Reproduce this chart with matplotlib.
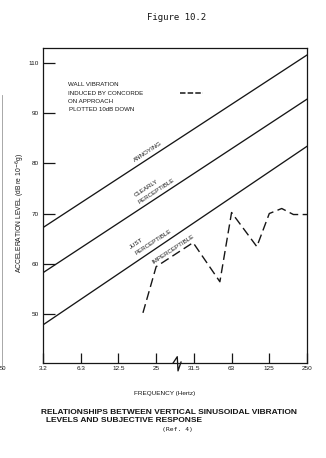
import math
import matplotlib
matplotlib.use("Agg")
import matplotlib.pyplot as plt
from matplotlib.transforms import blended_transform_factory

# Frequency axis: octave positions with a break between 25 and 31.5 Hz
freq_labels = ["3.2", "6.3", "12.5", "25", "31.5", "63", "125", "250"]
freq_pos = list(range(len(freq_labels)))

# Acceleration level axis (the top label reads 110 on the printed scale)
level_ticks = [50, 60, 70, 80, 90, 100]
level_labels = ["50", "60", "70", "80", "90", "110"]

# Subjective response criteria: level (dB) at 3.2 Hz and at 250 Hz
criteria_ends = [0, 7]
annoying = [67.2, 101.6]
clearly_perceptible = [58.2, 92.8]
just_perceptible = [47.8, 83.4]

# Concorde-induced wall vibration, plotted 10 dB down
concorde_pos = [2.65, 3.0, 3.98, 4.69, 5.0, 5.67, 6.0, 6.33, 6.64, 7.0]
concorde_db = [50.2, 59.4, 64.2, 56.4, 70.2, 63.4, 70.0, 71.0, 69.8, 69.8]

W, H = 326, 458
fig = plt.figure(figsize=(W / 100, H / 100), dpi=100)
ax = fig.add_axes([43 / W, 1 - 363 / H, 264 / W, 315 / H])

ink = "#161616"
font = "Liberation Sans"

ax.set_xlim(0, 7)
ax.set_ylim(40.2, 103)

for spine in ax.spines.values():
    spine.set_linewidth(0.9)
    spine.set_color(ink)

ax.set_xticks(freq_pos)
ax.set_xticklabels(freq_labels, fontsize=4.6, family=font, color=ink)
ax.set_yticks(level_ticks)
ax.set_yticklabels(level_labels, fontsize=4.6, family=font, color=ink)
ax.tick_params(axis="x", direction="in", length=7.2, width=0.9, pad=2, colors=ink)
ax.tick_params(axis="y", direction="in", length=8.8, width=0.9, pad=3, colors=ink)

lw = 0.95
ax.plot(criteria_ends, annoying, color=ink, lw=lw)
ax.plot(criteria_ends, clearly_perceptible, color=ink, lw=lw)
ax.plot(criteria_ends, just_perceptible, color=ink, lw=lw)

ax.plot(concorde_pos, concorde_db, color=ink, lw=1.0, dashes=(6.5, 3.2))

# angle of the criterion lines on screen
p0 = ax.transData.transform((criteria_ends[0], annoying[0]))
p1 = ax.transData.transform((criteria_ends[1], annoying[1]))
ang = math.degrees(math.atan2(p1[1] - p0[1], p1[0] - p0[0]))

lab = dict(fontsize=4.4, family=font, color=ink, rotation=ang,
           rotation_mode="anchor", ha="center", va="center")
ax.text(2.78, 82.3, "ANNOYING", **lab)
ax.text(2.73, 75.1, "CLEARLY", **lab)
ax.text(3.02, 74.5, "PERCEPTIBLE", **lab)
ax.text(2.47, 64.1, "JUST", **lab)
ax.text(2.92, 64.3, "PERCEPTIBLE", **lab)
ax.text(3.45, 62.9, "IMPERCEPTIBLE", **lab)

# legend block
leg = dict(fontsize=4.4, family=font, color=ink, ha="left", va="center",
           transform=ax.transAxes)
ax.text(0.095, 0.883, "WALL VIBRATION", **leg)
ax.text(0.095, 0.857, "INDUCED BY CONCORDE", **leg)
ax.text(0.095, 0.829, "ON APPROACH", **leg)
ax.text(0.100, 0.806, "PLOTTED 10dB DOWN", **leg)
ax.plot([0.519, 0.606], [0.857, 0.857], color=ink, lw=1.1, dashes=(3.6, 1.4),
        transform=ax.transAxes)

# axis break mark between 25 and 31.5 Hz
brk = blended_transform_factory(ax.transData, ax.transAxes)
ax.plot([3.45, 3.56, 3.58, 3.66], [0.0, 0.02, -0.025, 0.003],
        color=ink, lw=lw, transform=brk, clip_on=False)

# labels and captions
fig.text(20 / W, 1 - 213 / H, "ACCELERATION LEVEL (dB re 10$^{-6}$g)",
         rotation=90, ha="center", va="center", fontsize=4.9, family=font, color=ink)
fig.text(165 / W, 1 - 393 / H, "FREQUENCY (Hertz)", ha="center", va="center",
         fontsize=4.6, family=font, color=ink)
fig.text(177 / W, 1 - 18 / H, "Figure 10.2", ha="center", va="center",
         fontsize=6.5, family="DejaVu Sans Mono", color=ink)
fig.text(41 / W, 1 - 412 / H, "RELATIONSHIPS BETWEEN VERTICAL SINUSOIDAL VIBRATION",
         ha="left", va="center", fontsize=6.0, family=font, weight="bold", color=ink)
fig.text(46 / W, 1 - 420.5 / H, "LEVELS AND SUBJECTIVE RESPONSE",
         ha="left", va="center", fontsize=6.0, family=font, weight="bold", color=ink)
fig.text(177 / W, 1 - 430 / H, "(Ref. 4)", ha="center", va="center",
         fontsize=4.6, family="DejaVu Sans Mono", color=ink)

# page edge at the left margin
fig.add_artist(plt.Line2D([2 / W, 2 / W], [1 - 365 / H, 1 - 95 / H],
                          color="#9a9a9a", lw=0.6))
fig.text(0 / W, 1 - 369 / H, "50", ha="left", va="center",
         fontsize=4.2, family=font, color=ink)

fig.savefig("out.png", dpi=100)
